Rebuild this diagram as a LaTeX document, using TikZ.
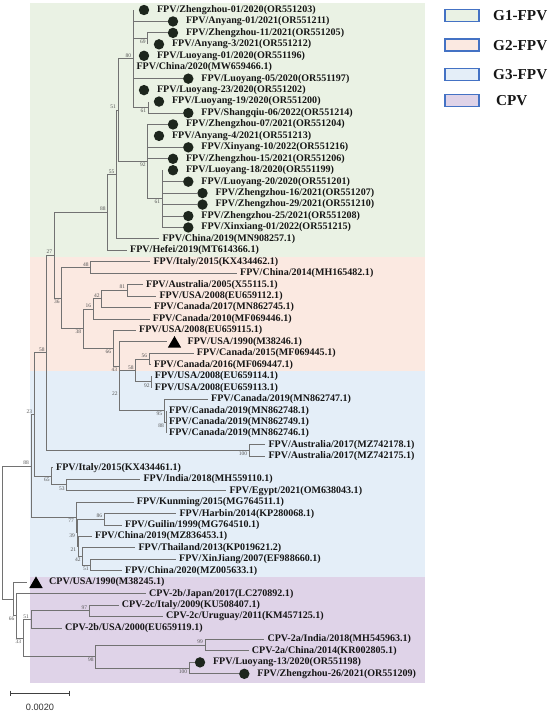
\documentclass[tikz,border=0pt]{standalone}
\usepackage{fontspec}
\setmainfont{Liberation Serif}
\newfontfamily\sansf{Liberation Sans}
\usetikzlibrary{shapes.geometric}
\definecolor{bgG}{HTML}{EAF2E4}
\definecolor{bgO}{HTML}{FBE9E1}
\definecolor{bgB}{HTML}{E4EEF8}
\definecolor{bgP}{HTML}{DFD3E8}
\definecolor{brc}{HTML}{727272}
\definecolor{txc}{HTML}{161616}
\definecolor{dotc}{HTML}{1D261D}
\definecolor{bsc}{HTML}{555555}
\definecolor{legc}{HTML}{4472C4}
\newcommand\dleaf[5]{\coordinate (#1) at (#2,#3); \node[dotm] (#1d) at (#4,#3) {}; \node[lab] (#1t) at ([xshift=7.5pt]#1d.east) {#5};}
\newcommand\pleaf[4]{\coordinate (#1) at (#2,#3); \node[lab] (#1t) at ([xshift=3pt]#1) {#4};}
\newcommand\tleaf[5]{\coordinate (#1) at (#2,#3); \node[trim] (#1m) at (#4,#3) {}; \node[lab] (#1t) at ([xshift=13pt]#4,#3) {#5};}
\begin{document}
\begin{tikzpicture}[x=1pt,y=-11.445pt,
 br/.style={draw=brc, line width=1pt},
 lab/.style={anchor=west, inner sep=0pt, font=\bfseries\fontsize{10.05}{12}\selectfont, text=txc},
 dotm/.style={circle, fill=dotc, inner sep=0pt, minimum size=10.4pt},
 trim/.style={regular polygon, regular polygon sides=3, fill=black, inner sep=0pt, minimum size=15.5pt, yshift=-1.9pt},
 bsa/.style={anchor=south east, inner sep=0pt, font=\fontsize{5.5}{6}\selectfont, text=bsc, xshift=-2pt, yshift=1.2pt},
 bsb/.style={anchor=north east, inner sep=0pt, font=\fontsize{5.5}{6}\selectfont, text=bsc, xshift=-2pt, yshift=-1.2pt},
 legbox/.style={draw=legc, line width=1.3pt, minimum width=34pt, minimum height=12pt, inner sep=0pt},
 legtxt/.style={anchor=west, inner sep=0pt, font=\bfseries\fontsize{15.2}{18}\selectfont, text=txc}]
\useasboundingbox (0,-0.87375) rectangle (550,61.6863);
% ---- backgrounds, legend, scale (pixel coordinates)
\begin{scope}[x=1pt,y=-1pt,yshift=10pt]
 \fill[bgG] (29.5,3) rectangle (425,256.7);
 \fill[bgO] (29.5,256.7) rectangle (425,371);
 \fill[bgB] (29.5,371) rectangle (425,577);
 \fill[bgP] (29.5,577) rectangle (425,683.3);
 \node[legbox, fill=bgG] (k1) at (462,15.5) {};
 \node[legtxt] (k1t) at (493,15.7) {G1-FPV};
 \node[legbox, fill=bgO] (k2) at (462,45) {};
 \node[legtxt] (k2t) at (493,45.2) {G2-FPV};
 \node[legbox, fill=bgB] (k3) at (462,74.5) {};
 \node[legtxt] (k3t) at (493,74.7) {G3-FPV};
 \node[legbox, fill=bgP] (k4) at (462,100.2) {};
 \node[legtxt] (k4t) at (496,100.4) {CPV};
 \coordinate (s1) at (10.7,693);
 \coordinate (s2) at (69.3,693);
 \draw[black!75, line width=0.8pt] (s1) -- (s2);
 \draw[black!75, line width=0.8pt] ([yshift=2.5pt]s1) -- ([yshift=-2.5pt]s1);
 \draw[black!75, line width=0.8pt] ([yshift=2.5pt]s2) -- ([yshift=-2.5pt]s2);
 \node[inner sep=0pt, font=\sansf\fontsize{9.2}{11}\selectfont, text=black!80] (sc) at (40,707) {0.0020};
\end{scope}
% ---- internal nodes (x in px, y in rows)
\coordinate (A80) at (133.3,4.25);
\coordinate (N69) at (147.7,2.5);
\coordinate (N61a) at (148.3,8.5);
\coordinate (B92) at (147.7,13.25);
\coordinate (N61b) at (162.3,16.5);
\coordinate (C51) at (118,8.75);
\coordinate (D55) at (116.5,14.375);
\coordinate (E88) at (107.7,17.6875);
\coordinate (F27) at (54.3,21.4297);
\coordinate (H36) at (61.7,25.1719);
\coordinate (N48) at (90.7,22.5);
\coordinate (N38) at (83.3,27.8438);
\coordinate (N16) at (93.3,26.125);
\coordinate (N42o) at (101.7,25.25);
\coordinate (N81) at (127.3,24.5);
\coordinate (N66o) at (113.3,29.5625);
\coordinate (N43) at (119.3,31.125);
\coordinate (N22) at (119.8,33.25);
\coordinate (N58o) at (135.7,31.5);
\coordinate (N56) at (149.3,30.5);
\coordinate (N92) at (151.7,32.5);
\coordinate (N95) at (164.3,35);
\coordinate (N88o) at (166,36);
\coordinate (G58) at (46.7,29.965);
\coordinate (N100a) at (249.3,38.5);
\coordinate (I23) at (34.3,35.357);
\coordinate (N65) at (51.7,40.75);
\coordinate (N53) at (66.7,41.5);
\coordinate (K88) at (31,39.85);
\coordinate (N77k) at (76,44.3438);
\coordinate (N86) at (104.3,44.5);
\coordinate (N39k) at (77,45.6875);
\coordinate (N21k) at (78.3,46.875);
\coordinate (N42k) at (82.7,47.75);
\coordinate (N51k) at (90.7,48.5);
\coordinate (Root) at (2.7,45.66);
\coordinate (CPVr) at (13.3,51.4688);
\coordinate (N66c) at (16.7,52.9375);
\coordinate (N33) at (23.3,54.875);
\coordinate (N51c) at (31,53.25);
\coordinate (N97) at (89.3,52.5);
\coordinate (N98) at (95.7,56.5);
\coordinate (N99) at (205,55.5);
\coordinate (N100c) at (189.3,57.5);
% ---- leaves
\dleaf{l0}{133.3}{0}{144}{FPV/Zhengzhou-01/2020(OR551203)}
\dleaf{l1}{168}{1}{173}{FPV/Anyang-01/2021(OR551211)}
\dleaf{l2}{168}{2}{173}{FPV/Zhengzhou-11/2021(OR551205)}
\dleaf{l3}{147.7}{3}{159}{FPV/Anyang-3/2021(OR551212)}
\dleaf{l4}{133.3}{4}{144}{FPV/Luoyang-01/2020(OR551196)}
\pleaf{l5}{133.3}{5}{FPV/China/2020(MW659466.1)}
\dleaf{l6}{183.3}{6}{188.3}{FPV/Luoyang-05/2020(OR551197)}
\dleaf{l7}{133.3}{7}{144}{FPV/Luoyang-23/2020(OR551202)}
\dleaf{l8}{148.3}{8}{159}{FPV/Luoyang-19/2020(OR551200)}
\dleaf{l9}{183.3}{9}{188.3}{FPV/Shangqiu-06/2022(OR551214)}
\dleaf{l10}{168}{10}{173}{FPV/Zhengzhou-07/2021(OR551204)}
\dleaf{l11}{147.7}{11}{159}{FPV/Anyang-4/2021(OR551213)}
\dleaf{l12}{183.3}{12}{188.3}{FPV/Xinyang-10/2022(OR551216)}
\dleaf{l13}{168}{13}{173}{FPV/Zhengzhou-15/2021(OR551206)}
\dleaf{l14}{162.3}{14}{173}{FPV/Luoyang-18/2020(OR551199)}
\dleaf{l15}{183.3}{15}{188.3}{FPV/Luoyang-20/2020(OR551201)}
\dleaf{l16}{197.5}{16}{202.5}{FPV/Zhengzhou-16/2021(OR551207)}
\dleaf{l17}{197.5}{17}{202.5}{FPV/Zhengzhou-29/2021(OR551210)}
\dleaf{l18}{183.3}{18}{188.3}{FPV/Zhengzhou-25/2021(OR551208)}
\dleaf{l19}{183.3}{19}{188.3}{FPV/Xinxiang-01/2022(OR551215)}
\pleaf{l20}{159.3}{20}{FPV/China/2019(MN908257.1)}
\pleaf{l21}{127}{21}{FPV/Hefei/2019(MT614366.1)}
\pleaf{l22}{150.3}{22}{FPV/Italy/2015(KX434462.1)}
\pleaf{l23}{237}{23}{FPV/China/2014(MH165482.1)}
\pleaf{l24}{143}{24}{FPV/Australia/2005(X55115.1)}
\pleaf{l25}{156.3}{25}{FPV/USA/2008(EU659112.1)}
\pleaf{l26}{151}{26}{FPV/Canada/2017(MN862745.1)}
\pleaf{l27}{149.7}{27}{FPV/Canada/2010(MF069446.1)}
\pleaf{l28}{136}{28}{FPV/USA/2008(EU659115.1)}
\tleaf{l29}{166.7}{29}{174.5}{FPV/USA/1990(M38246.1)}
\pleaf{l30}{193.7}{30}{FPV/Canada/2015(MF069445.1)}
\pleaf{l31}{151}{31}{FPV/Canada/2016(MF069447.1)}
\pleaf{l32}{151.7}{32}{FPV/USA/2008(EU659114.1)}
\pleaf{l33}{151.7}{33}{FPV/USA/2008(EU659113.1)}
\pleaf{l34}{208}{34}{FPV/Canada/2019(MN862747.1)}
\pleaf{l35}{166}{35}{FPV/Canada/2019(MN862748.1)}
\pleaf{l36}{166}{36}{FPV/Canada/2019(MN862749.1)}
\pleaf{l37}{166}{37}{FPV/Canada/2019(MN862746.1)}
\pleaf{l38}{265.3}{38}{FPV/Australia/2017(MZ742178.1)}
\pleaf{l39}{265.3}{39}{FPV/Australia/2017(MZ742175.1)}
\pleaf{l40}{53}{40}{FPV/Italy/2015(KX434461.1)}
\pleaf{l41}{140.3}{41}{FPV/India/2018(MH559110.1)}
\pleaf{l42}{226.3}{42}{FPV/Egypt/2021(OM638043.1)}
\pleaf{l43}{133.7}{43}{FPV/Kunming/2015(MG764511.1)}
\pleaf{l44}{176.3}{44}{FPV/Harbin/2014(KP280068.1)}
\pleaf{l45}{122}{45}{FPV/Guilin/1999(MG764510.1)}
\pleaf{l46}{92}{46}{FPV/China/2019(MZ836453.1)}
\pleaf{l47}{135.3}{47}{FPV/Thailand/2013(KP019621.2)}
\pleaf{l48}{176}{48}{FPV/XinJiang/2007(EF988660.1)}
\pleaf{l49}{122}{49}{FPV/China/2020(MZ005633.1)}
\tleaf{l50}{27}{50}{36}{CPV/USA/1990(M38245.1)}
\pleaf{l51}{146}{51}{CPV-2b/Japan/2017(LC270892.1)}
\pleaf{l52}{118.7}{52}{CPV-2c/Italy/2009(KU508407.1)}
\pleaf{l53}{163}{53}{CPV-2c/Uruguay/2011(KM457125.1)}
\pleaf{l54}{62}{54}{CPV-2b/USA/2000(EU659119.1)}
\pleaf{l55}{264.3}{55}{CPV-2a/India/2018(MH545963.1)}
\pleaf{l56}{248.7}{56}{CPV-2a/China/2014(KR002805.1)}
\dleaf{l57}{195}{57}{200}{FPV/Luoyang-13/2020(OR551198)}
\dleaf{l58}{239.3}{58}{244.3}{FPV/Zhengzhou-26/2021(OR551209)}
% ---- branches
\foreach \p/\c in {Root/K88, Root/CPVr, K88/I23, K88/N77k, I23/G58, I23/N65,
 G58/F27, G58/N100a, F27/E88, F27/H36, E88/D55, E88/l21, D55/C51, D55/l20,
 C51/A80, C51/B92, A80/l0, A80/l1, A80/N69, A80/l4, A80/l5, A80/l6, A80/l7, A80/N61a,
 N69/l2, N69/l3, N61a/l8, N61a/l9, B92/l10, B92/l11, B92/l12, B92/l13, B92/N61b,
 N61b/l14, N61b/l15, N61b/l16, N61b/l17, N61b/l18, N61b/l19,
 H36/N48, H36/N38, N48/l22, N48/l23, N38/N16, N38/N66o, N16/N42o, N16/l27,
 N42o/N81, N42o/l26, N81/l24, N81/l25, N66o/l28, N66o/N43, N43/l29, N43/N22,
 N22/N58o, N22/N95, N58o/N56, N58o/N92, N56/l30, N56/l31, N92/l32, N92/l33,
 N95/l34, N95/N88o, N88o/l35, N88o/l36, N88o/l37, N100a/l38, N100a/l39,
 N65/l40, N65/N53, N53/l41, N53/l42, N77k/l43, N77k/N39k, N39k/N86, N39k/N21k,
 N86/l44, N86/l45, N21k/l46, N21k/N42k, N42k/l47, N42k/N51k, N51k/l48, N51k/l49,
 CPVr/l50, CPVr/N66c, N66c/l51, N66c/N33, N33/N51c, N33/N98, N51c/N97, N51c/l54,
 N97/l52, N97/l53, N98/N99, N98/N100c, N99/l55, N99/l56, N100c/l57, N100c/l58}
 \draw[br] (\p) |- (\c);
% ---- bootstrap values
\foreach \n/\v in {A80/80, C51/51, D55/55, E88/88, F27/27, N48/48, N16/16, N42o/42,
 N81/81, N58o/58, N56/56, G58/58, I23/23, K88/88, N86/86, N51c/51, N97/97, N99/99}
 \node[bsa] (b\n) at (\n) {\v};
\foreach \n/\v in {N69/69, N61a/61, B92/92, N61b/61, H36/36, N38/38, N66o/66, N43/43,
 N22/22, N92/92, N95/95, N88o/88, N100a/100, N65/65, N53/53, N77k/77, N39k/39,
 N21k/21, N42k/42, N51k/51, N66c/66, N33/33, N98/98, N100c/100}
 \node[bsb] (b\n) at (\n) {\v};
\end{tikzpicture}
\end{document}
